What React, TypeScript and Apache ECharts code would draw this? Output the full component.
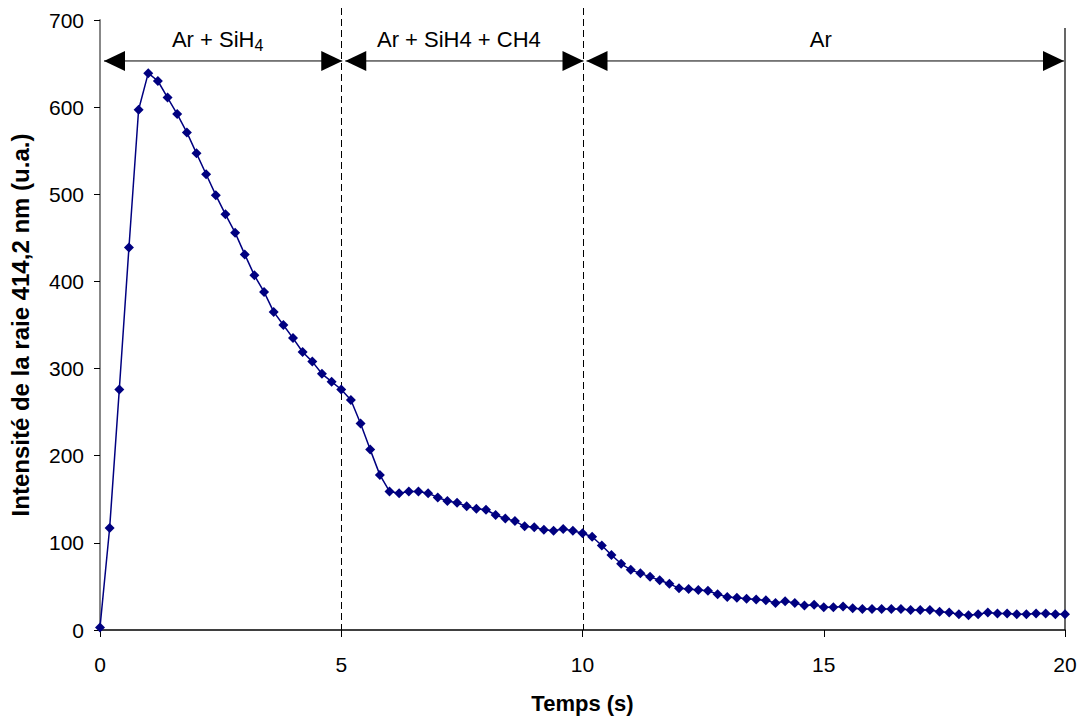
import React, { useEffect, useRef } from "react";
import * as echarts from "echarts";

const times: number[] = [
  0, 0.2, 0.4, 0.6, 0.8, 1, 1.2, 1.4, 1.6, 1.8, 2, 2.2, 2.4, 2.6, 2.8, 3, 3.2, 3.4, 3.6, 3.8,
  4, 4.2, 4.4, 4.6, 4.8, 5, 5.2, 5.4, 5.6, 5.8, 6, 6.2, 6.4, 6.6, 6.8, 7, 7.2, 7.4, 7.6, 7.8,
  8, 8.2, 8.4, 8.6, 8.8, 9, 9.2, 9.4, 9.6, 9.8, 10, 10.2, 10.4, 10.6, 10.8, 11, 11.2, 11.4, 11.6, 11.8,
  12, 12.2, 12.4, 12.6, 12.8, 13, 13.2, 13.4, 13.6, 13.8, 14, 14.2, 14.4, 14.6, 14.8, 15, 15.2, 15.4, 15.6, 15.8,
  16, 16.2, 16.4, 16.6, 16.8, 17, 17.2, 17.4, 17.6, 17.8, 18, 18.2, 18.4, 18.6, 18.8, 19, 19.2, 19.4, 19.6, 19.8,
  20,
];

const intensity: number[] = [
  3, 117, 276, 439, 597, 639, 630, 611, 592, 571, 547, 523, 499, 477, 456, 431, 407, 388, 365, 350,
  335, 319, 308, 294, 285, 276, 264, 237, 207, 178, 159, 157, 159, 159, 157, 152, 148, 146, 142, 139,
  138, 132, 128, 125, 119, 118, 115, 114, 116, 114, 111, 107, 97, 86, 76, 69, 65, 61, 57, 53,
  48, 47, 46, 45, 41, 38, 37, 36, 35, 34, 31, 33, 31, 28, 29, 26, 26, 27, 25, 24,
  24, 24, 24, 24, 23, 23, 23, 21, 20, 18, 17, 18, 20, 19, 19, 18, 18, 19, 19, 18,
  18,
];

const phaseBounds: number[] = [0, 5, 10, 20];
const phaseLabels: string[] = ["{n|Ar + SiH}{s|4}", "Ar + SiH4 + CH4", "Ar"];
const dashedAt: number[] = [5, 10];
const arrowLevel = 653; // in intensity units

const FONT = "'Liberation Sans', Arial, Helvetica, sans-serif";

export default function App() {
  const ref = useRef<HTMLDivElement>(null);

  useEffect(() => {
    const chart = echarts.init(ref.current!, null, { renderer: "svg" });
    chart.setOption({
      animation: false,
      backgroundColor: "#ffffff",
      grid: { left: 99, right: 17, top: 20, bottom: 90, containLabel: false },
      xAxis: {
        type: "value",
        min: 0,
        max: 20,
        interval: 5,
        name: "Temps (s)",
        nameLocation: "middle",
        nameGap: 62,
        nameTextStyle: { fontFamily: FONT, fontSize: 22, fontWeight: "bold", color: "#000" },
        axisLine: { onZero: false, lineStyle: { color: "#000", width: 1.5 } },
        axisTick: { show: true, inside: false, length: 7, lineStyle: { color: "#000", width: 1 } },
        axisLabel: { fontFamily: FONT, fontSize: 21, color: "#000", margin: 24 },
        splitLine: { show: false },
      },
      yAxis: {
        type: "value",
        min: 0,
        max: 700,
        interval: 100,
        name: "Intensité de la raie 414,2 nm (u.a.)",
        nameLocation: "middle",
        nameGap: 68,
        nameTextStyle: { fontFamily: FONT, fontSize: 24, fontWeight: "bold", color: "#000" },
        axisLine: { show: true, lineStyle: { color: "#888888", width: 2 } },
        axisTick: { show: true, inside: false, length: 6, lineStyle: { color: "#000", width: 1 } },
        axisLabel: { fontFamily: FONT, fontSize: 21, color: "#000", margin: 16 },
        splitLine: { show: false },
      },
      series: [
        {
          type: "line",
          data: times.map((t, i) => [t, intensity[i]]),
          symbol: "diamond",
          symbolSize: 10,
          showSymbol: true,
          lineStyle: { color: "#000080", width: 1.5 },
          itemStyle: { color: "#000080" },
          z: 5,
        },
      ],
    });

    const px = (x: number, y: number) => chart.convertToPixel({ gridIndex: 0 }, [x, y]) as number[];
    const top = px(0, 700)[1];
    const bottom = px(0, 0)[1];
    const ay = px(0, arrowLevel)[1];
    const elements: any[] = [];

    dashedAt.forEach((v) => {
      const x = Math.round(px(v, 0)[0]) + 0.5;
      elements.push({
        type: "line",
        shape: { x1: x, y1: top - 12, x2: x, y2: bottom },
        style: { stroke: "#000", lineWidth: 1, lineDash: [7, 4] },
        z: 3,
      });
    });
    const xEnd = px(phaseBounds[phaseBounds.length - 1], 0)[0];
    elements.push({
      type: "line",
      shape: { x1: xEnd, y1: top + 8, x2: xEnd, y2: bottom },
      style: { stroke: "#000", lineWidth: 1.2 },
      z: 3,
    });

    const headL = 21;
    const headH = 10;
    for (let i = 0; i < phaseBounds.length - 1; i++) {
      const xa = px(phaseBounds[i], 0)[0] + 4;
      const last = i === phaseBounds.length - 2;
      const xb = px(phaseBounds[i + 1], 0)[0] + (last ? -1 : 1);
      elements.push({
        type: "line",
        shape: { x1: xa, y1: ay, x2: xb, y2: ay },
        style: { stroke: "#000", lineWidth: 1 },
        z: 4,
      });
      elements.push({
        type: "polygon",
        shape: { points: [[xa, ay], [xa + headL, ay - headH], [xa + headL, ay + headH]] },
        style: { fill: "#000" },
        z: 4,
      });
      elements.push({
        type: "polygon",
        shape: { points: [[xb, ay], [xb - headL, ay - headH], [xb - headL, ay + headH]] },
        style: { fill: "#000" },
        z: 4,
      });
      const cx = (px(phaseBounds[i], 0)[0] + px(phaseBounds[i + 1], 0)[0]) / 2 - 3;
      elements.push({
        type: "text",
        x: cx,
        y: ay - 21,
        style: {
          text: phaseLabels[i],
          fontFamily: FONT,
          fontSize: 22,
          fill: "#000",
          align: "center",
          verticalAlign: "middle",
          rich: {
            n: { fontFamily: FONT, fontSize: 22, fill: "#000", lineHeight: 26 },
            s: { fontFamily: FONT, fontSize: 16, fill: "#000", padding: [12, 0, 0, 0] },
          },
        },
        z: 4,
      });
    }

    chart.setOption({ graphic: { elements } });
    return () => chart.dispose();
  }, []);

  return (
    <div
      ref={ref}
      style={{ position: "fixed", left: 0, top: 0, width: 1082, height: 720 }}
    />
  );
}
